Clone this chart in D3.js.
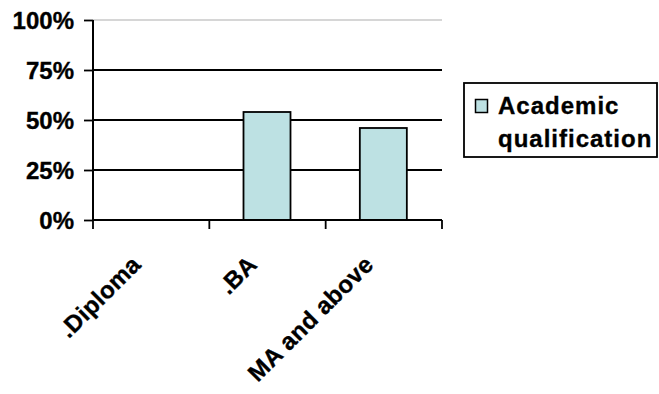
<!DOCTYPE html>
<html>
<head>
<meta charset="utf-8">
<script src="https://cdn.jsdelivr.net/npm/d3@7"></script>
<style>
  html, body { margin: 0; padding: 0; background: #fff; }
  svg text { font-family: "Liberation Sans", Arial, sans-serif; font-weight: bold; fill: #000; stroke: #000; stroke-width: 0.35px; }
</style>
</head>
<body>
<svg id="chart" width="659" height="394"></svg>
<script>
// Share of respondents by academic qualification
const categories = [".Diploma", ".BA", "MA and above"];
const values = [0, 0.54, 0.46];
const yTicks = [0, 0.25, 0.5, 0.75, 1];
const yTickLabels = ["0%", "25%", "50%", "75%", "100%"];
const seriesName = ["Academic", "qualification"];

const svg = d3.select("#chart");
const plot = { left: 93, right: 442, top: 20, bottom: 220 };
const barFill = "#bde1e3";

const x = d3.scaleBand().domain(categories).range([plot.left, plot.right]).paddingInner(0).paddingOuter(0);
const y = d3.scaleLinear().domain([0, 1]).range([plot.bottom, plot.top]);

// horizontal gridlines
svg.append("g").selectAll("line").data(yTicks.filter(t => t > 0)).join("line")
  .attr("x1", plot.left).attr("x2", plot.right)
  .attr("y1", d => y(d)).attr("y2", d => y(d))
  .attr("stroke", d => d === 1 ? "#c8c8c8" : "#000")
  .attr("stroke-width", d => d === 1 ? 1.5 : 1.8);

// bars
const barW = x.bandwidth() * 0.404;
svg.append("g").selectAll("rect").data(categories.map((c, i) => ({ c, v: values[i] })).filter(d => d.v > 0)).join("rect")
  .attr("x", d => x(d.c) + x.bandwidth() / 2 - barW / 2 - 0.5)
  .attr("y", d => y(d.v))
  .attr("width", barW)
  .attr("height", d => y(0) - y(d.v))
  .attr("fill", barFill)
  .attr("stroke", "#000")
  .attr("stroke-width", 1.8);

// y axis
const yAxis = d3.axisLeft(y).tickValues(yTicks).tickSize(9).tickFormat((d, i) => yTickLabels[i]);
const gy = svg.append("g").attr("transform", `translate(${plot.left},0)`).call(yAxis);
gy.select(".domain").remove();
gy.selectAll(".tick line").attr("stroke", "#000").attr("stroke-width", 1.8);
gy.selectAll(".tick text")
  .attr("x", -19)
  .attr("dy", "0.36em")
  .attr("font-size", 24)
  .attr("letter-spacing", 0)
  .attr("font-family", "Liberation Sans, Arial, sans-serif")
  .attr("font-weight", "bold")
  .attr("fill", "#000");
svg.append("line")
  .attr("x1", plot.left).attr("x2", plot.left)
  .attr("y1", plot.top).attr("y2", plot.bottom)
  .attr("stroke", "#000").attr("stroke-width", 2);

// x axis with category boundary ticks
const gx = svg.append("g");
gx.append("line")
  .attr("x1", plot.left).attr("x2", plot.right)
  .attr("y1", plot.bottom).attr("y2", plot.bottom)
  .attr("stroke", "#000").attr("stroke-width", 2);
const boundaries = categories.map(c => x(c)).concat([x(categories[categories.length - 1]) + x.bandwidth()]);
gx.selectAll("line.tk").data(boundaries).join("line")
  .attr("class", "tk")
  .attr("x1", d => d).attr("x2", d => d)
  .attr("y1", plot.bottom).attr("y2", plot.bottom + 9)
  .attr("stroke", "#000").attr("stroke-width", 1.8);

// rotated category labels
gx.selectAll("text").data(categories).join("text")
  .attr("transform", d => `translate(${x(d) + x.bandwidth() / 2 - 9},${plot.bottom + 46}) rotate(-45)`)
  .attr("text-anchor", "end")
  .attr("font-size", 24)
  .attr("letter-spacing", 0.3)
  .text(d => d);

// legend
const lg = svg.append("g");
lg.append("rect")
  .attr("x", 464).attr("y", 83).attr("width", 193).attr("height", 74)
  .attr("fill", "#fff").attr("stroke", "#000").attr("stroke-width", 1.8);
lg.append("rect")
  .attr("x", 475.5).attr("y", 99.5).attr("width", 12).attr("height", 13)
  .attr("fill", barFill).attr("stroke", "#000").attr("stroke-width", 1.5);
lg.append("text")
  .attr("x", 498).attr("y", 114)
  .attr("font-size", 24).attr("letter-spacing", 1)
  .text(seriesName[0]);
lg.append("text")
  .attr("x", 498).attr("y", 147)
  .attr("font-size", 24).attr("letter-spacing", 1)
  .text(seriesName[1]);
</script>
</body>
</html>
